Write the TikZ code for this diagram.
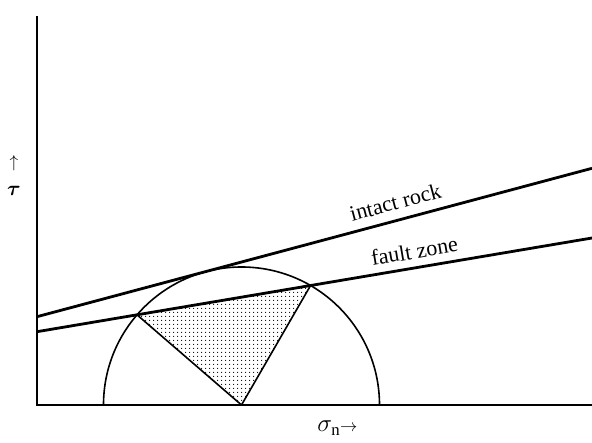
\documentclass[tikz,border=0pt]{standalone}
\usepackage{amsmath,bm}
\usepackage{fontspec}
\setmainfont{Liberation Serif}
\usetikzlibrary{intersections,patterns.meta}
\tikzdeclarepattern{
  name=stipple,
  type=uncolored,
  bottom left={(0pt,0pt)},
  top right={(4pt,4pt)},
  tile size={(4pt,4pt)},
  code={\fill (2pt,2pt) circle (0.7pt);}
}
\begin{document}
\begin{tikzpicture}[x=1pt,y=1pt,
  axis/.style={line width=1.4pt},
  envelope/.style={line width=2.8pt},
  circ/.style={line width=1.6pt},
  lbl/.style={font=\fontsize{22}{24}\selectfont, inner sep=0pt}]
\useasboundingbox (0,0) rectangle (592,442);
% coordinates
\coordinate (O) at (37,37);
\coordinate (T) at (37,426);
\coordinate (X) at (592,37);
\coordinate (C) at (241.5,37);
\coordinate (I1) at (37,125.3);
\coordinate (I2) at (592,273.7);
\coordinate (F1) at (37,110.3);
\coordinate (F2) at (592,204);
% semicircle
\path[name path=semi] (103.5,37) arc[start angle=180,end angle=0,radius=138];
\path[name path=fault] (F1) -- (F2);
\path[name intersections={of=semi and fault, by={P1,P2}}];
% triangle
\fill[pattern={stipple}] (C) -- (P1) -- (P2) -- cycle;
\draw[circ,line join=round] (P2) -- (C) -- (P1);
\draw[circ] (103.5,37) arc[start angle=180,end angle=0,radius=138];
% axes
\draw[axis] (T) -- (O) -- (X);
% envelopes
\draw[envelope] (I1) -- (I2) node[lbl,pos=0.654,sloped,above=9pt] {intact rock};
\draw[envelope] (F1) -- (F2) node[lbl,pos=0.685,sloped,above=7.5pt] {fault zone};
% axis labels
\node[font=\fontsize{20}{22}\selectfont] (tau) at (14,251) {$\bm{\tau}$};
\node[font=\fontsize{16}{18}\selectfont] (up) at (14,278.5) {$\uparrow$};
\node[font=\fontsize{24}{26}\selectfont] (sig) at (337.5,14) {$\sigma_{\mathrm{n}}{\scriptstyle\rightarrow}$};
\end{tikzpicture}
\end{document}
